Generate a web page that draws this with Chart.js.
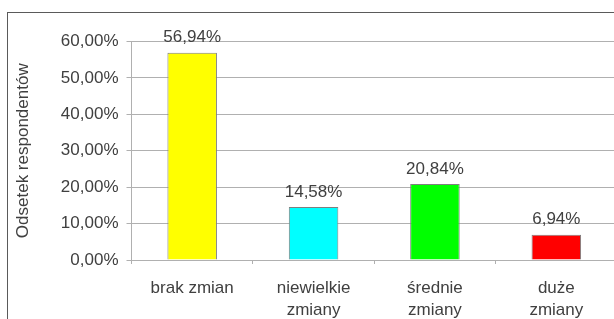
<!DOCTYPE html>
<html>
<head>
<meta charset="utf-8">
<script src="https://cdn.jsdelivr.net/npm/chart.js@4/dist/chart.umd.min.js"></script>
<style>
  html, body { margin: 0; padding: 0; background: #ffffff; overflow: hidden; width: 614px; height: 319px; }
  #frame { position: absolute; left: 7px; top: 12px; width: 700px; height: 400px;
           border-left: 1.5px solid #5a5a5a; border-top: 1.5px solid #5a5a5a; box-sizing: border-box; }
  #c { position: absolute; left: 0; top: 0; }
</style>
</head>
<body>
<div id="frame"></div>
<canvas id="c" width="617" height="319"></canvas>
<script>
const categories = [["brak zmian"], ["niewielkie", "zmiany"], ["średnie", "zmiany"], ["duże", "zmiany"]];
const values = [56.94, 14.58, 20.84, 6.94];
const barColors = ["#ffff00", "#00ffff", "#00ff00", "#ff0000"];
const yTicks = [0, 10, 20, 30, 40, 50, 60];
const yTitle = "Odsetek respondentów";

const fmt = v => v.toFixed(2).replace('.', ',') + '%';
const FONT = "'Liberation Sans', Arial, Helvetica, sans-serif";
const TEXT = '#404040';

const valueLabels = {
  id: 'valueLabels',
  afterDatasetsDraw(chart) {
    const ctx = chart.ctx;
    ctx.save();
    ctx.font = '17px ' + FONT;
    ctx.fillStyle = TEXT;
    ctx.textAlign = 'center';
    ctx.textBaseline = 'middle';
    chart.getDatasetMeta(0).data.forEach((bar, i) => {
      ctx.fillText(fmt(values[i]), bar.x, bar.y - 15);
    });
    ctx.restore();
  }
};

new Chart(document.getElementById('c'), {
  type: 'bar',
  data: {
    labels: categories,
    datasets: [{
      data: values,
      backgroundColor: barColors,
      borderColor: '#7f7f7f',
      borderWidth: 1,
      categoryPercentage: 1,
      barPercentage: 0.408
    }]
  },
  options: {
    responsive: false,
    animation: false,
    devicePixelRatio: 1,
    layout: { padding: { top: 41.5, right: 0, bottom: 0, left: 0 } },
    plugins: { legend: { display: false }, tooltip: { enabled: false } },
    scales: {
      x: {
        grid: { drawOnChartArea: false, offset: true, tickLength: 4, color: '#b0b0b0' },
        border: { color: '#b0b0b0', width: 1 },
        ticks: { color: TEXT, font: { family: FONT, size: 17, lineHeight: 1.3 }, padding: 13, maxRotation: 0, autoSkip: false },
        afterFit(scale) { scale.height = 59; }
      },
      y: {
        min: 0, max: 60,
        afterBuildTicks(scale) { scale.ticks = yTicks.map(v => ({ value: v })); },
        grid: { color: '#b0b0b0', tickLength: 5 },
        border: { color: '#b0b0b0', width: 1 },
        ticks: { color: TEXT, font: { family: FONT, size: 17 }, padding: 8, callback: v => fmt(v) },
        title: { display: true, text: yTitle, color: TEXT, font: { family: FONT, size: 17, lineHeight: 1.2 }, padding: { top: 13, bottom: 0 } },
        afterFit(scale) { scale.width = 131.5; }
      }
    }
  },
  plugins: [valueLabels]
});
</script>
</body>
</html>
